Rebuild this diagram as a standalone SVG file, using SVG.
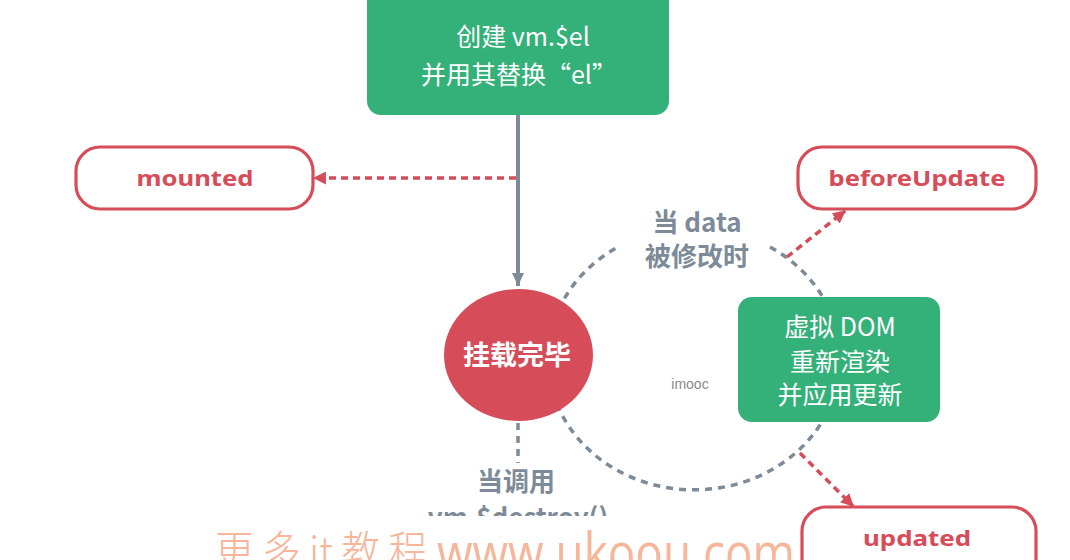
<svg xmlns="http://www.w3.org/2000/svg" width="1070" height="560" viewBox="0 0 1070 560">
<style>
.green{fill:#34b079}
.hook{fill:#fff;stroke:#d64c58;stroke-width:3.2}
.hooktxt{font-family:"Noto Sans","Liberation Sans",sans-serif;font-weight:bold;font-size:22px;fill:#d64c58;text-anchor:middle}
.wtxt{font-family:"Noto Sans CJK SC","Noto Sans",sans-serif;font-size:25px;fill:#fff;text-anchor:middle}
.gtxt{font-family:"Noto Sans CJK SC","Noto Sans",sans-serif;font-weight:bold;font-size:26px;fill:#7d8a97;text-anchor:middle}
.rdash{fill:none;stroke:#d64c58;stroke-width:3.5;stroke-dasharray:7 5}
.gdash{fill:none;stroke:#7d8a97;stroke-width:3.5;stroke-dasharray:7 6}
</style>
<defs>
<marker id="ar" viewBox="0 0 12 12" refX="11" refY="6" markerWidth="13" markerHeight="13" markerUnits="userSpaceOnUse" orient="auto">
<path d="M0,0 L12,6 L0,12 Z" fill="#d64c58"/>
</marker>
<marker id="ag" viewBox="0 0 14 12" refX="13" refY="6" markerWidth="14" markerHeight="12" markerUnits="userSpaceOnUse" orient="auto">
<path d="M0,0 L13,6 L0,12 Z" fill="#7d8a97"/>
</marker>
<clipPath id="clipDestroy"><rect x="0" y="0" width="1070" height="516"/></clipPath>
</defs>
<rect width="1070" height="560" fill="#fff"/>

<g id="connectors">
<path class="gdash" d="M770,247 A146,131 0 1 1 618,247"/>
<line x1="518" y1="115" x2="518" y2="286" stroke="#7d8a97" stroke-width="4" marker-end="url(#ag)"/>
<line class="rdash" x1="516" y1="178" x2="314" y2="178" marker-end="url(#ar)"/>
<line class="rdash" x1="787" y1="257" x2="845" y2="211" marker-end="url(#ar)"/>
<line class="rdash" x1="800" y1="453" x2="853" y2="506" marker-end="url(#ar)"/>
<line class="gdash" x1="518" y1="423" x2="518" y2="463"/>
</g>

<g id="create-el">
<rect class="green" x="367" y="-20" width="302" height="135" rx="14"/>
<text class="wtxt" x="523" y="46">创建 vm.$el</text>
<text class="wtxt" x="519" y="84">并用其替换“el”</text>
</g>

<g id="mounted">
<rect class="hook" x="76" y="147" width="237" height="62" rx="24"/>
<text class="hooktxt" x="195" y="186" textLength="117" lengthAdjust="spacingAndGlyphs">mounted</text>
</g>

<g id="beforeUpdate">
<rect class="hook" x="798" y="147" width="238" height="62" rx="24"/>
<text class="hooktxt" x="917" y="186" textLength="177" lengthAdjust="spacingAndGlyphs">beforeUpdate</text>
</g>

<g id="updated">
<rect class="hook" x="802" y="507" width="234" height="80" rx="24"/>
<text class="hooktxt" x="917" y="546" textLength="108" lengthAdjust="spacingAndGlyphs">updated</text>
</g>

<g id="mounted-done">
<ellipse cx="518.5" cy="355" rx="74.5" ry="66" fill="#d64c58"/>
<text x="517" y="365" font-family="'Noto Sans CJK SC',sans-serif" font-weight="bold" font-size="27" fill="#fff" text-anchor="middle">挂载完毕</text>
</g>

<g id="data-changed">
<text class="gtxt" x="697" y="232">当 data</text>
<text class="gtxt" x="697" y="266">被修改时</text>
</g>

<g id="rerender">
<rect class="green" x="738" y="297" width="202" height="125" rx="14"/>
<text class="wtxt" x="840" y="336" font-size="26">虚拟 DOM</text>
<text class="wtxt" x="840" y="371" font-size="26">重新渲染</text>
<text class="wtxt" x="840" y="404" font-size="26">并应用更新</text>
</g>

<g id="destroy">
<text class="gtxt" x="516" y="491" font-size="25">当调用</text>
<text class="gtxt" x="518" y="527" clip-path="url(#clipDestroy)">vm.$destroy()</text>
</g>

<text x="690" y="389" font-family="'Liberation Sans',sans-serif" font-size="14" fill="#8a8a8a" text-anchor="middle">imooc</text>

<g id="watermark" fill="#f7b59a">
<text x="215" y="568" font-family="'Noto Sans CJK SC',sans-serif" font-weight="300" font-size="44" textLength="212" lengthAdjust="spacingAndGlyphs">更 多 it 教 程</text>
<text x="437" y="572" font-family="'Open Sans','Liberation Sans',sans-serif" font-size="54" textLength="358" lengthAdjust="spacingAndGlyphs">www.ukoou.com</text>
</g>
</svg>
